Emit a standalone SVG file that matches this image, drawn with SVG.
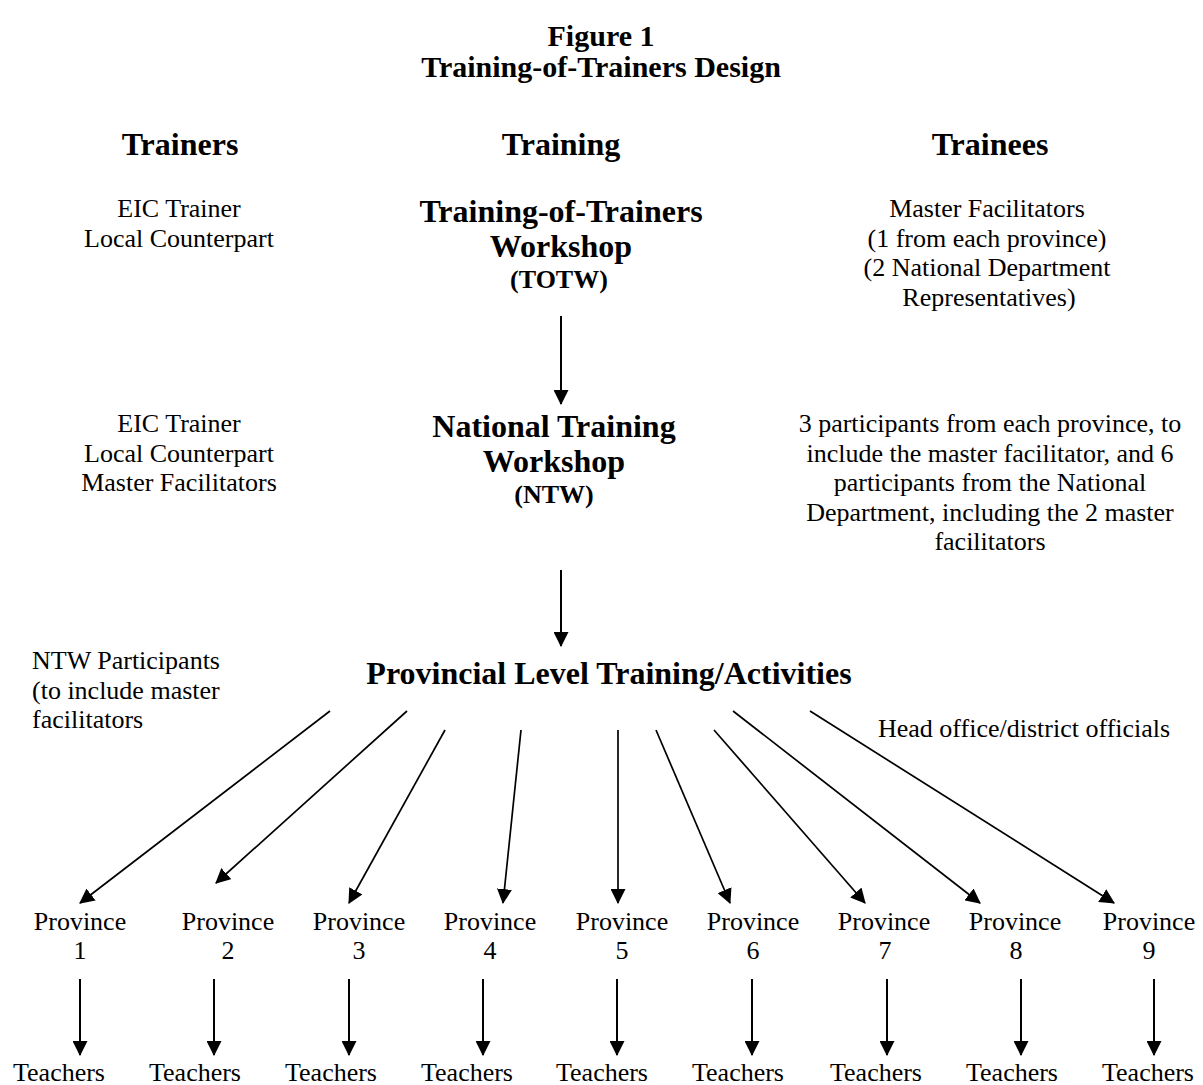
<svg xmlns="http://www.w3.org/2000/svg" width="1203" height="1085" viewBox="0 0 1203 1085">
<style>
text{font-family:"Liberation Serif","Times New Roman",serif;fill:#000;}
.r{font-size:26px;}
.c{text-anchor:middle;}
.h{font-size:32px;font-weight:bold;}
.t{font-size:30px;font-weight:bold;}
.s{font-size:26px;font-weight:bold;}
.ln{stroke:#000;stroke-width:1.7;fill:none;marker-end:url(#ah);}
.v{stroke-width:2;}
</style>
<defs>
<marker id="ah" markerUnits="userSpaceOnUse" markerWidth="15" markerHeight="15" viewBox="0 0 14 14" refX="13" refY="7" orient="auto">
<path d="M0,0 L14,7 L0,14 z" fill="#000"/>
</marker>
</defs>
<rect width="1203" height="1085" fill="#fff"/>
<g id="title">
<text class="t c" x="601" y="46">Figure 1</text>
<text class="t c" x="601" y="77">Training-of-Trainers Design</text>
</g>
<g id="headers">
<text class="h c" x="180" y="155">Trainers</text>
<text class="h c" x="561" y="155">Training</text>
<text class="h c" x="990" y="155">Trainees</text>
</g>
<g id="totw-trainers">
<text class="r c" x="179" y="217">EIC Trainer</text>
<text class="r c" x="179" y="246.5">Local Counterpart</text>
</g>
<g id="totw">
<text class="h c" x="561" y="222">Training-of-Trainers</text>
<text class="h c" x="561" y="257">Workshop</text>
<text class="s c" x="559" y="288">(TOTW)</text>
</g>
<g id="totw-trainees">
<text class="r c" x="987" y="217">Master Facilitators</text>
<text class="r c" x="987" y="246.5">(1 from each province)</text>
<text class="r c" x="987" y="276">(2 National Department</text>
<text class="r c" x="989" y="305.5">Representatives)</text>
</g>
<g id="ntw-trainers">
<text class="r c" x="179" y="432">EIC Trainer</text>
<text class="r c" x="179" y="461.5">Local Counterpart</text>
<text class="r c" x="179" y="491">Master Facilitators</text>
</g>
<g id="ntw">
<text class="h c" x="554" y="437">National Training</text>
<text class="h c" x="554" y="472">Workshop</text>
<text class="s c" x="554" y="503">(NTW)</text>
</g>
<g id="ntw-trainees">
<text class="r c" x="990" y="432">3 participants from each province, to</text>
<text class="r c" x="990" y="461.5">include the master facilitator, and 6</text>
<text class="r c" x="990" y="491">participants from the National</text>
<text class="r c" x="990" y="520.5">Department, including the 2 master</text>
<text class="r c" x="990" y="550">facilitators</text>
</g>
<g id="provincial-trainers">
<text class="r" x="32" y="669">NTW Participants</text>
<text class="r" x="32" y="698.5">(to include master</text>
<text class="r" x="32" y="728">facilitators</text>
</g>
<g id="provincial">
<text class="h c" x="609" y="684">Provincial Level Training/Activities</text>
</g>
<g id="provincial-trainees">
<text class="r" x="878" y="737">Head office/district officials</text>
</g>
<g id="provinces">
<g id="p1"><text class="r c" x="80" y="930">Province</text><text class="r c" x="80" y="959">1</text></g>
<g id="p2"><text class="r c" x="228" y="930">Province</text><text class="r c" x="228" y="959">2</text></g>
<g id="p3"><text class="r c" x="359" y="930">Province</text><text class="r c" x="359" y="959">3</text></g>
<g id="p4"><text class="r c" x="490" y="930">Province</text><text class="r c" x="490" y="959">4</text></g>
<g id="p5"><text class="r c" x="622" y="930">Province</text><text class="r c" x="622" y="959">5</text></g>
<g id="p6"><text class="r c" x="753" y="930">Province</text><text class="r c" x="753" y="959">6</text></g>
<g id="p7"><text class="r c" x="884" y="930">Province</text><text class="r c" x="885" y="959">7</text></g>
<g id="p8"><text class="r c" x="1015" y="930">Province</text><text class="r c" x="1016" y="959">8</text></g>
<g id="p9"><text class="r c" x="1149" y="930">Province</text><text class="r c" x="1149" y="959">9</text></g>
</g>
<g id="teachers">
<text class="r c" x="59" y="1081">Teachers</text>
<text class="r c" x="195" y="1081">Teachers</text>
<text class="r c" x="331" y="1081">Teachers</text>
<text class="r c" x="467" y="1081">Teachers</text>
<text class="r c" x="602" y="1081">Teachers</text>
<text class="r c" x="738" y="1081">Teachers</text>
<text class="r c" x="876" y="1081">Teachers</text>
<text class="r c" x="1012" y="1081">Teachers</text>
<text class="r c" x="1148" y="1081">Teachers</text>
</g>
<g id="connectors">
<line class="ln v" x1="561" y1="316" x2="561" y2="404"/>
<line class="ln v" x1="561" y1="570" x2="561" y2="646"/>
<line class="ln" x1="330" y1="711" x2="80" y2="903"/>
<line class="ln" x1="407" y1="711" x2="216" y2="883"/>
<line class="ln" x1="445" y1="730" x2="349" y2="903"/>
<line class="ln" x1="521" y1="730" x2="503" y2="903"/>
<line class="ln" x1="618" y1="730" x2="618" y2="903"/>
<line class="ln" x1="656" y1="730" x2="730" y2="903"/>
<line class="ln" x1="714" y1="730" x2="865" y2="903"/>
<line class="ln" x1="733" y1="711" x2="980" y2="903"/>
<line class="ln" x1="810" y1="711" x2="1114" y2="903"/>
<line class="ln v" x1="80" y1="979" x2="80" y2="1055"/>
<line class="ln v" x1="214" y1="979" x2="214" y2="1055"/>
<line class="ln v" x1="349" y1="979" x2="349" y2="1055"/>
<line class="ln v" x1="483" y1="979" x2="483" y2="1055"/>
<line class="ln v" x1="617" y1="979" x2="617" y2="1055"/>
<line class="ln v" x1="752" y1="979" x2="752" y2="1055"/>
<line class="ln v" x1="887" y1="979" x2="887" y2="1055"/>
<line class="ln v" x1="1021" y1="979" x2="1021" y2="1055"/>
<line class="ln v" x1="1154" y1="979" x2="1154" y2="1055"/>
</g>
</svg>
